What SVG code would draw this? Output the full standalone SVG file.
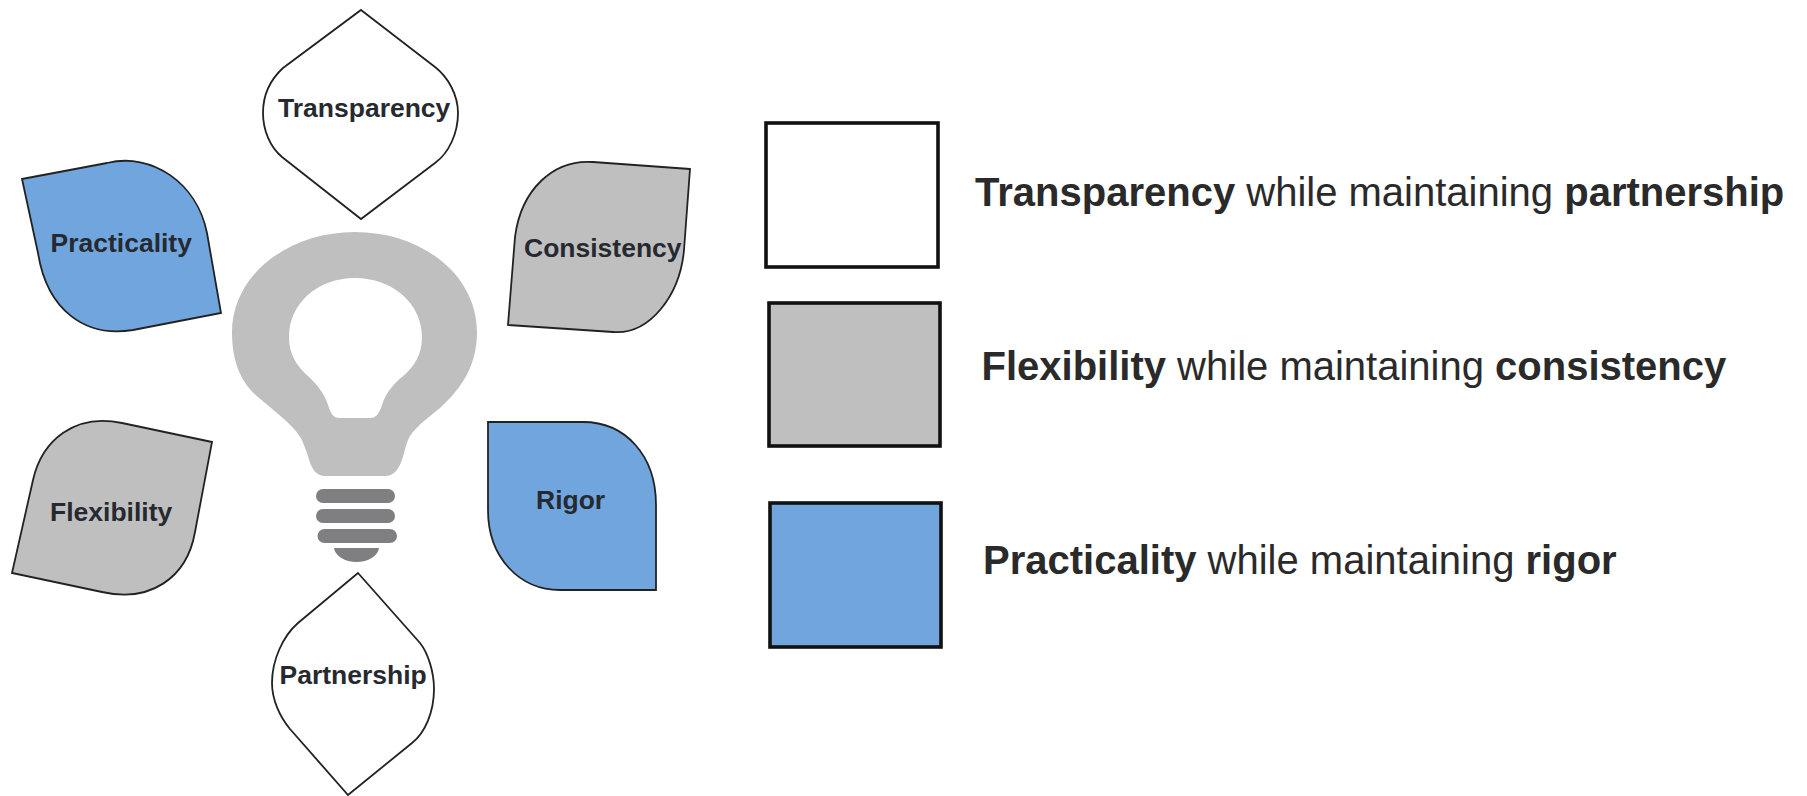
<svg xmlns="http://www.w3.org/2000/svg" width="1807" height="796" viewBox="0 0 1807 796">
<style>
.n{stroke:#222;stroke-width:1.8;stroke-linejoin:miter}
.w{fill:#fff}.g{fill:#bfbfbf}.b{fill:#70a6dd}
.l{font-family:"Liberation Sans",Arial,sans-serif;font-weight:700;font-size:26.500px;fill:#262a30}
.k{stroke:#111;stroke-width:3.6}
.t{font-family:"Liberation Sans",Arial,sans-serif;font-size:40px;fill:#2a2a2a}
.t tspan{font-weight:700}
.s{fill:#7f7f82}
</style>
<rect width="1807" height="796" fill="#fff"/>
<g id="bulb">
<path class="g" fill-rule="evenodd" d="M355 232C422 232 477 275 477 332C477 365 462 388 440 408C425 420 412 430 408 440C403 452 402 476 385 476L325 476C310 476 309 455 305 448C300 430 285 420 258 397C240 382 232 360 232 332C232 275 288 232 355 232ZM355 278C318 278 289 303 289 337C289 355 297 366 308 376C318 385 325 395 328 405C331 414 333 418 340 418L370 418C376 418 379 414 382 405C385 395 392 385 402 377C414 367 422 355 422 337C422 303 392 278 355 278Z"/>
<rect class="s" x="316" y="489" width="79" height="14" rx="7"/>
<rect class="s" x="316" y="509" width="79" height="14" rx="7"/>
<rect class="s" x="317.500" y="529" width="79.500" height="14" rx="7"/>
<path class="s" d="M334 548L379 548C378 556 368 562 356.500 562C345 562 335 556 334 548Z"/>
</g>
<g id="transparency">
<path class="n w" d="M361 10L435 67C448 77 458 95 458 113C458 133 449 153 435 163L361 219L282 157C270 147 263 130 263 113C263 95 271 79 283 68Z"/>
<text class="l" x="278" y="117">Transparency</text>
</g>
<g id="practicality">
<path class="n b" d="M22 179L107 163C152 152 197 183 207 233L221 313L133 330C85 338 47 310 38 253Z"/>
<text class="l" x="50.500" y="252">Practicality</text>
</g>
<g id="consistency">
<path class="n g" d="M690 169L593 162C553 159 521 190 515 237L508 325L613 332C650 335 680 295 684 250Z"/>
<text class="l" x="524" y="257">Consistency</text>
</g>
<g id="flexibility">
<path class="n g" d="M212 442L122 423C75 413 42 440 33 480L12 573L102 592C150 603 187 578 195 532Z"/>
<text class="l" x="50" y="521">Flexibility</text>
</g>
<g id="rigor">
<path class="n b" d="M488 422L583 422C625 422 656 455 656 505L656 590L560 590C520 590 488 558 488 510Z"/>
<text class="l" x="536" y="509">Rigor</text>
</g>
<g id="partnership">
<path class="n w" d="M358 573L420 643C428 653 434 672 434 689C434 712 425 733 412 743L348 795L290 729C280 717 272 700 272 683C272 660 283 636 298 623Z"/>
<text class="l" x="279.500" y="684">Partnership</text>
</g>
<g id="legend-transparency">
<rect class="k w" x="766" y="123" width="172" height="144"/>
<text class="t" x="975" y="206"><tspan>Transparency</tspan> while maintaining <tspan>partnership</tspan></text>
</g>
<g id="legend-flexibility">
<rect class="k g" x="769" y="303" width="171" height="143"/>
<text class="t" x="981.500" y="380"><tspan>Flexibility</tspan> while maintaining <tspan>consistency</tspan></text>
</g>
<g id="legend-practicality">
<rect class="k b" x="770" y="503" width="171" height="144"/>
<text class="t" x="983" y="574"><tspan>Practicality</tspan> while maintaining <tspan>rigor</tspan></text>
</g>
</svg>
